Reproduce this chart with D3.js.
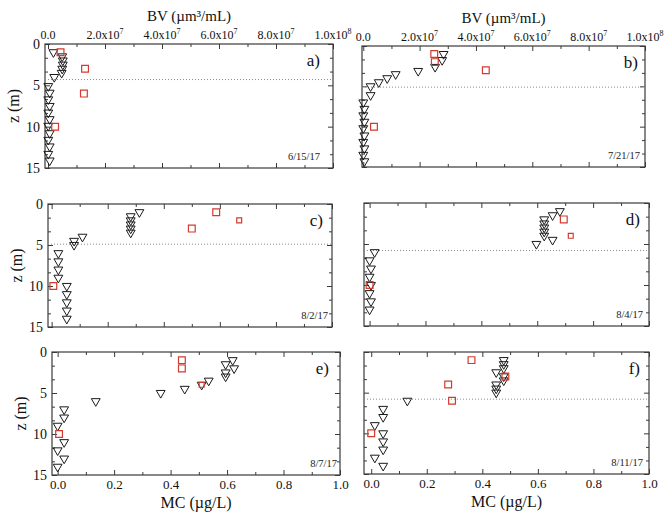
<!DOCTYPE html>
<html>
<head>
<meta charset="utf-8">
<script src="https://cdn.jsdelivr.net/npm/d3@7"></script>
<style>
  body { margin: 0; background: #fff; }
  svg { display: block; font-family: "Liberation Serif", "Times New Roman", serif; }
</style>
</head>
<body>
<svg id="chart" width="667" height="513"></svg>
<script>
// ---- Data -------------------------------------------------------------
const panelIds = ["a)", "b)", "c)", "d)", "e)", "f)"];
const sampleDates = ["6/15/17", "7/21/17", "8/2/17", "8/4/17", "8/7/17", "8/11/17"];
// Mixed-layer depth (m); null where no line is drawn
const mixedDepth = [4.3, 5.1, 4.9, 5.8, null, 5.8];

// Biovolume profiles (triangles): depth (m) and BV (µm³/mL)
const bvDepthA = [1, 1.5, 2, 2.5, 3, 3.5, 4, 5.1, 5.9, 6.7, 7.5, 8.3, 9.1, 9.9, 10.8, 11.6, 12.4, 13.3, 14.1];
const bvA = [1.9e6, 5.0e6, 5.2e6, 5.2e6, 5.0e6, 4.8e6, 2.2e6, 0.1e6, 0.6e6, 0.1e6, 0.6e6, 0.1e6, 0.6e6, 0.1e6, 0.6e6, 0.1e6, 0.6e6, 0.1e6, 0.6e6];

const bvDepthB = [1, 1.75, 2.6, 3.1, 3.5, 4, 4.5, 5, 6.1, 7, 7.8, 8.6, 9.4, 10.2, 11.1, 11.9, 12.7, 13.5, 14.3];
const bvB = [2.85e7, 2.8e7, 2.55e7, 1.95e7, 1.15e7, 0.85e7, 0.55e7, 0.26e7, 0.26e7, 0.0, 0.4e6, 0.0, 0.4e6, 0.0, 0.4e6, 0.0, 0.4e6, 0.0, 0.4e6];

const bvDepthC = [1, 1.5, 2, 2.5, 3, 3.5, 4, 4.5, 5, 6, 7, 8, 9, 10, 11, 12, 13, 14];
const bvC = [3.13e7, 2.82e7, 2.82e7, 2.82e7, 2.82e7, 2.82e7, 1.1e7, 0.8e7, 0.8e7, 0.24e7, 0.24e7, 0.24e7, 0.24e7, 0.54e7, 0.54e7, 0.54e7, 0.54e7, 0.54e7];

const bvDepthD = [1, 1.5, 2, 2.5, 3, 3.5, 4, 4.5, 5, 6, 7, 8, 9, 10, 11, 12, 13];
const bvD = [6.81e7, 6.55e7, 6.25e7, 6.25e7, 6.25e7, 6.25e7, 6.25e7, 6.55e7, 5.97e7, 0.18e7, 0.0, 0.5e6, 0.0, 0.5e6, 0.0, 0.5e6, 0.0];

const bvDepthE = [1, 1.5, 2, 2.5, 3, 3.5, 4, 4.5, 5, 6, 7, 8, 9, 11, 12, 13, 14];
const bvE = [6.2e7, 5.95e7, 6.25e7, 5.95e7, 5.95e7, 5.35e7, 5.1e7, 4.5e7, 3.65e7, 1.35e7, 0.23e7, 0.23e7, 0.0, 0.23e7, 0.0, 0.23e7, 0.0];

const bvDepthF = [1, 1.5, 2, 2.5, 3, 3.5, 4, 4.5, 5, 6, 7, 8, 9, 10, 11, 12, 13, 14];
const bvF = [4.77e7, 4.77e7, 4.77e7, 4.5e7, 4.77e7, 4.77e7, 4.5e7, 4.5e7, 4.5e7, 1.3e7, 0.43e7, 0.43e7, 0.13e7, 0.43e7, 0.43e7, 0.43e7, 0.13e7, 0.43e7];

// Microcystin samples (squares): depth (m) and MC (µg/L)
const mcDepthA = [1, 3, 6, 10];
const mcA = [0.044, 0.13, 0.126, 0.025];
const mcDepthB = [1, 2, 3, 10];
const mcB = [0.252, 0.254, 0.435, 0.038];
const mcDepthC = [1, 2, 3, 10];
const mcC = [0.587, 0.669, 0.50, 0.006];
const mcDepthD = [2, 4, 10];
const mcD = [0.695, 0.72, 0.0];
const mcDepthE = [1, 2, 4, 10];
const mcE = [0.44, 0.44, 0.51, 0.005];
const mcDepthF = [1, 3, 4, 6, 10];
const mcF = [0.361, 0.483, 0.277, 0.291, 0.0];

// Axis ticks
const zMajor = [0, 5, 10, 15];
const mcMajor = [0, 0.2, 0.4, 0.6, 0.8, 1.0];
const mcTickLabels = ["0.0", "0.2", "0.4", "0.6", "0.8", "1.0"];
const bvMajor = [0, 2e7, 4e7, 6e7, 8e7, 1e8];
const bvTickMantissa = ["0.0", "2.0x10", "4.0x10", "6.0x10", "8.0x10", "1.0x10"];
const bvTickExponent = ["", "7", "7", "7", "7", "8"];

// ---- Layout -----------------------------------------------------------
const profiles = [
  { bvDepth: bvDepthA, bv: bvA, mcDepth: mcDepthA, mc: mcA },
  { bvDepth: bvDepthB, bv: bvB, mcDepth: mcDepthB, mc: mcB },
  { bvDepth: bvDepthC, bv: bvC, mcDepth: mcDepthC, mc: mcC },
  { bvDepth: bvDepthD, bv: bvD, mcDepth: mcDepthD, mc: mcD },
  { bvDepth: bvDepthE, bv: bvE, mcDepth: mcDepthE, mc: mcE },
  { bvDepth: bvDepthF, bv: bvF, mcDepth: mcDepthF, mc: mcF }
];

const frames = [
  { x0: 45,  x1: 333, y0: 44,  y1: 168, xMin: -0.0105, top: true,  bottom: false, left: true,  lblDx: 13, dateDx: 13 },
  { x0: 362, x1: 645, y0: 46,  y1: 167, xMin: -0.0045, top: true,  bottom: false, left: false, lblDx: 7,  dateDx: 5 },
  { x0: 48,  x1: 332, y0: 204, y1: 327, xMin: -0.013,  top: false, bottom: false, left: true,  lblDx: 9,  dateDx: 4 },
  { x0: 364, x1: 649, y0: 203, y1: 326, xMin: -0.02,   top: false, bottom: false, left: false, lblDx: 9,  dateDx: 6 },
  { x0: 52,  x1: 340, y0: 352, y1: 475, xMin: -0.02,   top: false, bottom: true,  left: true,  lblDx: 11, dateDx: 3 },
  { x0: 364, x1: 649, y0: 352, y1: 474, xMin: -0.026,  top: false, bottom: true,  left: false, lblDx: 9,  dateDx: 6 }
];

// Squares drawn at reduced size (panel index -> sample index)
const reducedSquares = { 2: [1], 3: [1], 4: [2] };

const axisColor = "#3a3a3a";
const squareColor = "#d23b2e";

const svg = d3.select("#chart");

const triangle = d3.symbol().type(d3.symbolTriangle).size(34)();
const squareBig = d3.symbol().type(d3.symbolSquare).size(46)();
const squareSmall = d3.symbol().type(d3.symbolSquare).size(24)();

function minorValues(lo, hi, step, skip) {
  const out = [];
  for (let v = lo; v <= hi + 1e-9; v += step) {
    if (!skip.some(s => Math.abs(s - v) < 1e-9 * Math.max(1, Math.abs(s)))) out.push(v);
  }
  return out;
}
const zMinor = minorValues(0, 15, 5 / 3, zMajor);
const mcMinor = [0.1, 0.3, 0.5, 0.7, 0.9];
const bvMinor = [1e7, 3e7, 5e7, 7e7, 9e7];

function styleAxis(g) {
  g.select(".domain").remove();
  g.selectAll("line").attr("stroke", axisColor).attr("stroke-width", 1);
  g.attr("font-family", null);
}

frames.forEach((f, i) => {
  const p = profiles[i];
  const mcScale = d3.scaleLinear().domain([f.xMin, 1.0]).range([f.x0, f.x1]);
  const bvScale = d3.scaleLinear().domain([f.xMin * 1e8, 1e8]).range([f.x0, f.x1]);
  const zScale = d3.scaleLinear().domain([0, 15]).range([f.y0, f.y1]);

  const g = svg.append("g");

  // inward ticks on all four sides
  const addAxis = (axisFn, scale, values, size, transform) => {
    g.append("g")
      .attr("transform", transform)
      .call(axisFn(scale).tickValues(values).tickSize(-size).tickSizeOuter(0).tickFormat(""))
      .call(styleAxis);
  };
  addAxis(d3.axisTop, bvScale, bvMajor, 5, `translate(0,${f.y0})`);
  addAxis(d3.axisTop, bvScale, bvMinor, 3, `translate(0,${f.y0})`);
  addAxis(d3.axisBottom, mcScale, mcMajor, 5, `translate(0,${f.y1})`);
  addAxis(d3.axisBottom, mcScale, mcMinor, 3, `translate(0,${f.y1})`);
  addAxis(d3.axisLeft, zScale, zMajor, 5, `translate(${f.x0},0)`);
  addAxis(d3.axisLeft, zScale, zMinor, 3, `translate(${f.x0},0)`);
  addAxis(d3.axisRight, zScale, zMajor, 5, `translate(${f.x1},0)`);
  addAxis(d3.axisRight, zScale, zMinor, 3, `translate(${f.x1},0)`);

  // frame
  g.append("rect")
    .attr("x", f.x0).attr("y", f.y0)
    .attr("width", f.x1 - f.x0).attr("height", f.y1 - f.y0)
    .attr("fill", "none").attr("stroke", axisColor).attr("stroke-width", 1.2);

  // left tick labels and title
  if (f.left) {
    g.append("g")
      .attr("transform", `translate(${f.x0},0)`)
      .call(d3.axisLeft(zScale).tickValues(zMajor).tickSize(0).tickPadding(5).tickFormat(d3.format("d")))
      .call(gg => gg.select(".domain").remove())
      .attr("font-family", null)
      .attr("font-size", 14)
      .selectAll("text").attr("fill", "#111");
    g.append("text")
      .attr("transform", `translate(${f.x0 - 26},${(f.y0 + f.y1) / 2}) rotate(-90)`)
      .attr("text-anchor", "middle")
      .attr("font-size", 16)
      .attr("fill", "#111")
      .text("z (m)");
  }

  // top (BV) tick labels and title
  if (f.top) {
    const lbl = g.append("g").attr("font-size", 12).attr("fill", "#111");
    bvMajor.forEach((v, k) => {
      const t = lbl.append("text")
        .attr("x", bvScale(v))
        .attr("y", f.y0 - 5)
        .attr("text-anchor", "middle");
      t.append("tspan").text(bvTickMantissa[k]);
      if (bvTickExponent[k]) {
        t.append("tspan").attr("dy", -5).attr("font-size", 8).text(bvTickExponent[k]);
      }
    });
    g.append("text")
      .attr("x", (f.x0 + f.x1) / 2)
      .attr("y", f.y0 - 23)
      .attr("text-anchor", "middle")
      .attr("font-size", 15)
      .attr("fill", "#111")
      .text("BV (µm³/mL)");
  }

  // bottom (MC) tick labels and title
  if (f.bottom) {
    g.append("g")
      .attr("transform", `translate(0,${f.y1})`)
      .call(d3.axisBottom(mcScale).tickValues(mcMajor).tickSize(0).tickPadding(5)
        .tickFormat((d, k) => mcTickLabels[k]))
      .call(gg => gg.select(".domain").remove())
      .attr("font-family", null)
      .attr("font-size", 13)
      .selectAll("text").attr("fill", "#111");
    g.append("text")
      .attr("x", (f.x0 + f.x1) / 2)
      .attr("y", f.y1 + 33)
      .attr("text-anchor", "middle")
      .attr("font-size", 16)
      .attr("fill", "#111")
      .text("MC (µg/L)");
  }

  // mixed-layer depth
  if (mixedDepth[i] !== null) {
    g.append("line")
      .attr("x1", f.x0).attr("x2", f.x1)
      .attr("y1", zScale(mixedDepth[i])).attr("y2", zScale(mixedDepth[i]))
      .attr("stroke", "#8a8a8a").attr("stroke-width", 1)
      .attr("stroke-dasharray", "1,2");
  }

  // BV profile (downward triangles)
  g.append("g").selectAll("path")
    .data(d3.zip(p.bvDepth, p.bv))
    .join("path")
    .attr("d", triangle)
    .attr("transform", d => `translate(${bvScale(d[1])},${zScale(d[0])}) rotate(180)`)
    .attr("fill", "none")
    .attr("stroke", "#1a1a1a")
    .attr("stroke-width", 1);

  // MC samples (squares)
  const small = reducedSquares[i] || [];
  g.append("g").selectAll("path")
    .data(d3.zip(p.mcDepth, p.mc).map((d, k) => ({ z: d[0], v: d[1], small: small.includes(k) })))
    .join("path")
    .attr("d", d => d.small ? squareSmall : squareBig)
    .attr("transform", d => `translate(${mcScale(d.v)},${zScale(d.z)})`)
    .attr("fill", "none")
    .attr("stroke", squareColor)
    .attr("stroke-width", 1.2);

  // panel letter and sampling date
  g.append("text")
    .attr("x", f.x1 - f.lblDx)
    .attr("y", f.y0 + 22)
    .attr("text-anchor", "end")
    .attr("font-size", 17)
    .attr("fill", "#111")
    .text(panelIds[i]);
  g.append("text")
    .attr("x", f.x1 - f.dateDx)
    .attr("y", f.y1 - 8)
    .attr("text-anchor", "end")
    .attr("font-size", 10.5)
    .attr("fill", "#222")
    .text(sampleDates[i]);
});
</script>
</body>
</html>
